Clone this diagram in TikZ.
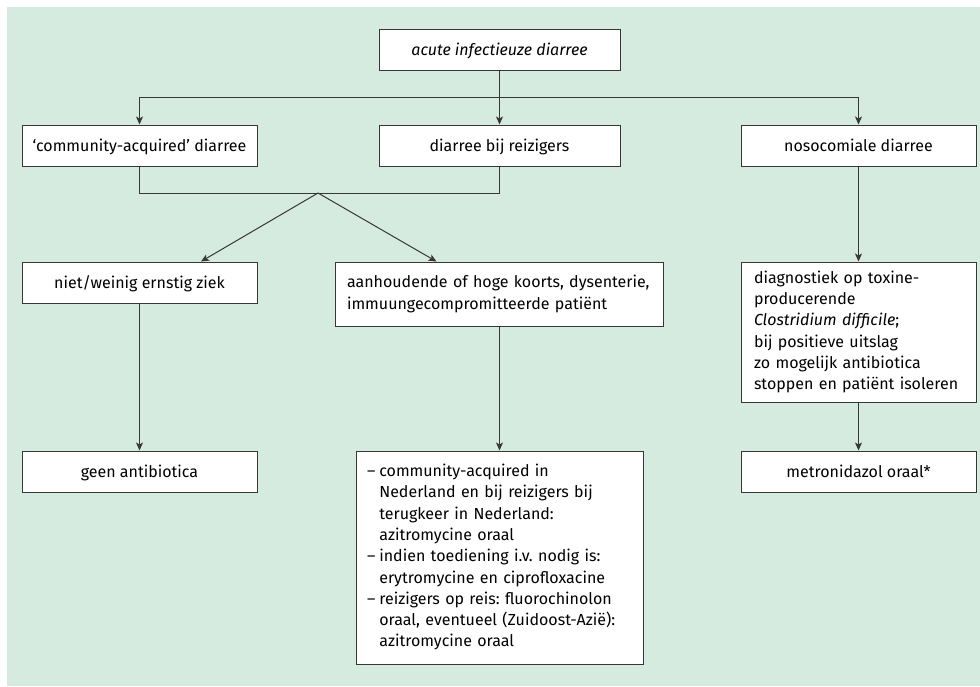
\documentclass[tikz,border=0pt]{standalone}
\usepackage{fontspec}
\setmainfont{Fira Sans}
\usetikzlibrary{arrows.meta}
\definecolor{achtergrond}{RGB}{214,235,224}
\definecolor{lijn}{RGB}{55,55,55}
\frenchspacing

\begin{document}
\begin{tikzpicture}[x=1pt,y=-1pt,>={Stealth[length=8pt,width=7pt,inset=2pt]},line width=1pt,draw=lijn]
		\tikzstyle{kader}=[draw=lijn,fill=white,minimum width=235pt,minimum height=41pt,inner sep=0pt,font=\fontsize{16}{21.3}\selectfont]
		\tikzstyle{box}=[kader,text height=12pt,text depth=0pt]
		\tikzstyle{tekstbox}=[kader,align=left,inner xsep=13pt]
		
		\useasboundingbox (0,0) rectangle (980,686);
		\fill[achtergrond] (7,7) rectangle (980,686);
		
		\node[box,minimum width=241pt](acute) at (499.5,49.5){\itshape acute infectieuze diarree};
		
		\node[box](comm) at (139.5,145.5){‘community-acquired’ diarree};
		\node[box,minimum width=241pt](reiz) at (499.5,145.5){diarree bij reizigers};
		\node[box](noso) at (858.5,145.5){nosocomiale diarree};
		
		\node[box](niet) at (139.5,282.5){niet/weinig ernstig ziek};
		\node[tekstbox,inner xsep=11.5pt,text width=305pt,minimum height=64pt](hoog) at (499.5,294){aanhoudende of hoge koorts, dysenterie,\\immuungecompromitteerde patiënt};
		\node[tekstbox,text width=209pt,minimum height=140pt](diag) at (858.5,332){diagnostiek op toxine-\\producerende\\{\itshape Clostridium difficile};\\bij positieve uitslag\\zo mogelijk antibiotica\\stoppen en patiënt isoleren};
		
		\node[box](geen) at (139.5,471.5){geen antibiotica};
		\node[tekstbox,inner xsep=11pt,text width=265pt,minimum height=213pt](lijst) at (499.5,557.5){%
			\begin{tabular}{@{}l@{\hspace{4pt}}l@{}}
			– & community-acquired in\\
			  & Nederland en bij reizigers bij\\
			  & terugkeer in Nederland:\\
			  & azitromycine oraal\\
			– & indien toediening i.v. nodig is:\\
			  & erytromycine en ciprofloxacine\\
			– & reizigers op reis: fluorochinolon\\
			  & oraal, eventueel (Zuidoost-Azië):\\
			  & azitromycine oraal
			\end{tabular}};
		\node[box](metro) at (858.5,471.5){metronidazol oraal*};
		
		\coordinate (split) at (499.5,97);
		\coordinate (samen) at (318,193);
		
		\draw (acute) -- (split);
		\draw[->] (split) -| (comm);
		\draw[->] (split) -| (noso);
		\draw[->] (acute) -- (reiz);
		
		\draw (comm) |- (samen);
		\draw (reiz) |- (samen);
		\draw[->] (samen) -- ([xshift=61.5pt]niet.north);
		\draw[->] (samen) -- ([xshift=-63pt]hoog.north);
		
		\draw[->] (noso) -- (diag);
		\draw[->] (niet) -- (geen);
		\draw[->] (hoog) -- (lijst);
		\draw[->] (diag) -- (metro);
\end{tikzpicture}
\end{document}
